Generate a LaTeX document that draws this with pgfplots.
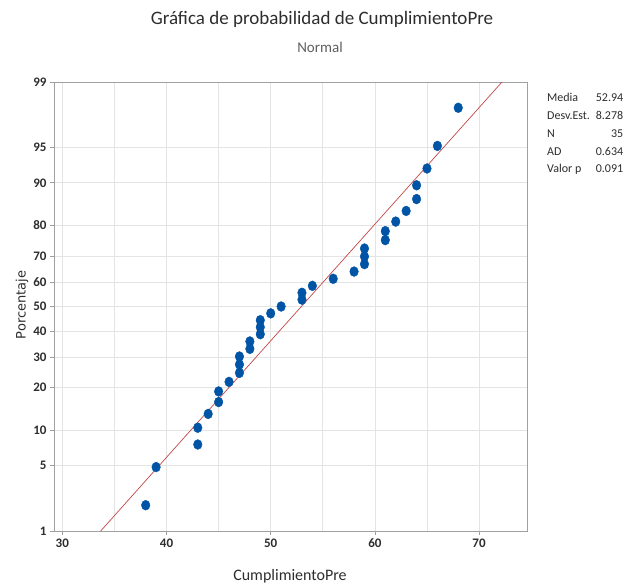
\documentclass[border=0pt]{standalone}
\usepackage{pgfplots}
\pgfplotsset{compat=1.18}
\usepackage{fontspec}
\setmainfont{Carlito}
\newfontfamily\ylabfont{DejaVu Sans}
\definecolor{ptblue}{RGB}{0,84,166}
\definecolor{fitred}{RGB}{196,70,70}
\definecolor{txt}{RGB}{45,45,45}
\definecolor{gridc}{RGB}{228,228,228}
\definecolor{framec}{RGB}{160,160,160}
\begin{document}
\begin{tikzpicture}[x=1pt,y=1pt]
\useasboundingbox (0,0) rectangle (626,587);
\begin{axis}[
  at={(54pt,56pt)}, anchor=south west,
  width=473pt, height=449pt, scale only axis,
  xmin=29.2, xmax=74.6,
  ymin=-2.3263, ymax=2.3263,
  xtick={30,40,50,60,70},
  minor xtick={35,45,55,65},
  ytick={-2.3263,-1.6449,-1.2816,-0.8416,-0.5244,-0.2533,0,0.2533,0.5244,0.8416,1.2816,1.6449,2.3263},
  yticklabels={1,5,10,20,30,40,50,60,70,80,90,95,99},
  grid=both,
  major grid style={gridc, line width=0.7pt},
  minor grid style={gridc, line width=0.7pt},
  minor tick length=0pt,
  major tick length=4pt,
  tick align=outside,
  xtick pos=left, ytick pos=left,
  tick style={framec, line width=0.7pt},
  axis line style={framec, line width=0.9pt},
  /pgf/number format/assume math mode=true,
  ticklabel style={font=\fontsize{13}{14}\selectfont\bfseries, text=txt},
  clip=true,
]
\addplot[fitred, line width=0.7pt] coordinates {(33.68,-2.3263) (72.20,2.3263)};
\addplot[only marks, mark=*, mark size=4.3pt, mark options={ptblue, draw=ptblue, yscale=1.15}] coordinates {
(38,-2.059) (39,-1.664) (43,-1.430) (43,-1.256) (44,-1.113) (45,-0.990) (45,-0.880)
(46,-0.781) (47,-0.688) (47,-0.601) (47,-0.518) (48,-0.439) (48,-0.362) (49,-0.287)
(49,-0.214) (49,-0.142) (50,-0.071) (51,0) (53,0.071) (53,0.142) (54,0.214)
(56,0.287) (58,0.362) (59,0.439) (59,0.518) (59,0.601) (61,0.688) (61,0.781)
(62,0.880) (63,0.990) (64,1.113) (64,1.256) (65,1.430) (66,1.664) (68,2.059)
};
\end{axis}
\node[text=txt, font=\fontsize{19}{22}\selectfont] at (322,568) {Gráfica de probabilidad de CumplimientoPre};
\node[text={rgb,255:red,95;green,95;blue,95}, font=\fontsize{15}{17}\selectfont] at (320,540) {Normal};
\node[text=txt, font=\fontsize{16}{18}\selectfont] at (290,11) {CumplimientoPre};
\node[text=txt, rotate=90] at (22,282) {\ylabfont\fontsize{13}{15}\selectfont Porcentaje};
\node[anchor=north west, inner sep=0pt, text=txt, font=\fontsize{12}{17.8}\selectfont] at (547,498) {%
\begin{tabular*}{76pt}{@{}l@{\extracolsep{\fill}}r@{}}
Media & 52.94\\
Desv.Est. & 8.278\\
N & 35\\
AD & 0.634\\
Valor p & 0.091
\end{tabular*}};
\end{tikzpicture}
\end{document}
